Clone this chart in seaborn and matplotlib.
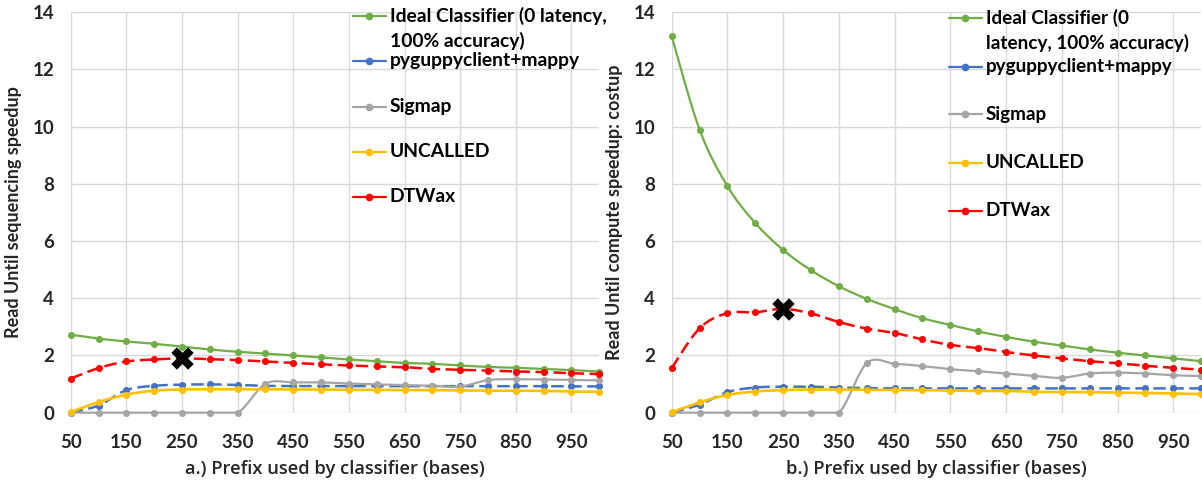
import numpy as np
import matplotlib
matplotlib.use("Agg")
import matplotlib.pyplot as plt
import seaborn as sns
from matplotlib.lines import Line2D

# Prefix length (bases) used by each read classifier
prefix = [50, 100, 150, 200, 250, 300, 350, 400, 450, 500,
          550, 600, 650, 700, 750, 800, 850, 900, 950, 1000]

# a.) Read Until sequencing speedup
ideal_seq = [2.73, 2.59, 2.49, 2.41, 2.31, 2.21, 2.13, 2.07, 2.00, 1.93,
             1.86, 1.80, 1.74, 1.71, 1.65, 1.60, 1.57, 1.53, 1.49, 1.44]
guppy_seq = [0.00, 0.25, 0.79, 0.94, 0.98, 0.99, 0.97, 0.94, 0.93, 0.93,
             0.93, 0.93, 0.93, 0.93, 0.93, 0.93, 0.93, 0.93, 0.92, 0.92]
sigmap_seq = [0.00, 0.00, 0.00, 0.00, 0.00, 0.00, 0.00, 1.01, 1.06, 1.06,
              1.02, 0.99, 0.97, 0.94, 0.91, 1.14, 1.17, 1.16, 1.14, 1.13]
uncalled_seq = [0.02, 0.37, 0.63, 0.77, 0.81, 0.82, 0.82, 0.82, 0.81, 0.81,
                0.80, 0.80, 0.79, 0.79, 0.78, 0.77, 0.77, 0.76, 0.74, 0.73]
dtwax_seq = [1.19, 1.56, 1.79, 1.86, 1.90, 1.87, 1.84, 1.79, 1.74, 1.69,
             1.65, 1.62, 1.59, 1.53, 1.50, 1.47, 1.44, 1.42, 1.38, 1.35]

# b.) Read Until compute speedup: costup
ideal_cmp = [13.16, 9.90, 7.92, 6.63, 5.69, 4.98, 4.42, 3.98, 3.62, 3.30,
             3.07, 2.84, 2.65, 2.48, 2.35, 2.21, 2.10, 2.00, 1.90, 1.80]
guppy_cmp = [0.00, 0.28, 0.72, 0.88, 0.91, 0.91, 0.88, 0.86, 0.85, 0.85,
             0.85, 0.85, 0.85, 0.85, 0.85, 0.85, 0.85, 0.85, 0.85, 0.85]
sigmap_cmp = [0.00, 0.00, 0.00, 0.00, 0.00, 0.00, 0.00, 1.73, 1.71, 1.63,
              1.52, 1.45, 1.37, 1.29, 1.22, 1.37, 1.40, 1.37, 1.31, 1.28]
uncalled_cmp = [0.02, 0.36, 0.62, 0.74, 0.79, 0.81, 0.81, 0.80, 0.79, 0.79,
                0.77, 0.76, 0.76, 0.73, 0.72, 0.72, 0.70, 0.69, 0.67, 0.65]
dtwax_cmp = [1.56, 2.95, 3.48, 3.51, 3.63, 3.47, 3.17, 2.94, 2.79, 2.56,
             2.37, 2.26, 2.12, 2.00, 1.90, 1.80, 1.73, 1.64, 1.57, 1.50]

series_names = ["Ideal Classifier (0 latency, 100% accuracy)",
                "pyguppyclient+mappy", "Sigmap", "UNCALLED", "DTWax"]
series_colors = ["#70AD47", "#4472C4", "#A5A5A5", "#FFC000", "#FF0000"]
highlight_prefix = 250  # DTWax operating point marked with a cross

x_ticks = [50, 150, 250, 350, 450, 550, 650, 750, 850, 950]
y_ticks = [0, 2, 4, 6, 8, 10, 12, 14]

panel_seq = [ideal_seq, guppy_seq, sigmap_seq, uncalled_seq, dtwax_seq]
panel_cmp = [ideal_cmp, guppy_cmp, sigmap_cmp, uncalled_cmp, dtwax_cmp]

sns.set_theme(style="white")
plt.rcParams["font.family"] = ["Lato", "DejaVu Sans"]

DASHED = (0, (5.0, 2.2))
styles = ["-", DASHED, "-", "-", DASHED]
widths = [1.6, 1.8, 1.6, 1.9, 1.8]


def smooth(xv, yv, n=20):
    """Cardinal (Catmull-Rom) Bezier curve through the points."""
    pts = np.column_stack([xv, yv]).astype(float)
    p = np.vstack([pts[0], pts, pts[-1]])
    t = np.linspace(0, 1, n, endpoint=False)[:, None]
    out = []
    for i in range(1, len(p) - 2):
        p0, p1, p2, p3 = p[i - 1], p[i], p[i + 1], p[i + 2]
        c1 = p1 + (p2 - p0) / 6.0
        c2 = p2 - (p3 - p1) / 6.0
        # keep flat runs flat (no overshoot into a level stretch)
        if p1[1] == p2[1]:
            c1[1] = c2[1] = p1[1]
        out.append((1 - t) ** 3 * p1 + 3 * (1 - t) ** 2 * t * c1
                   + 3 * (1 - t) * t ** 2 * c2 + t ** 3 * p2)
    out.append(pts[-1:])
    return np.vstack(out)


fig = plt.figure(figsize=(12.02, 4.82), dpi=100)
ax_a = fig.add_axes([0.0588, 0.1438, 0.4398, 0.8307])
ax_b = fig.add_axes([0.5588, 0.1438, 0.4405, 0.8307])

panels = [
    (ax_a, panel_seq, "Read Until sequencing speedup",
     "a.) Prefix used by classifier (bases)",
     ["Ideal Classifier (0 latency,", "100% accuracy)"],
     dict(x0=0.5335, x1=0.5965, xt=0.604,
          ys=[0.9908, 0.8784, 0.7642, 0.6519, 0.5395], y2=0.929, fs=13.9)),
    (ax_b, panel_cmp, "Read Until compute speedup: costup",
     "b.) Prefix used by classifier (bases)",
     ["Ideal Classifier (0", "latency, 100% accuracy)"],
     dict(x0=0.5243, x1=0.5855, xt=0.593,
          ys=[0.985, 0.8641, 0.7453, 0.6244, 0.5045], y2=0.9226, fs=13.6)),
]

for ax, values, ylabel, xlabel, ideal_lines, key in panels:
    for i, (vals, color, ls, lw) in enumerate(zip(values, series_colors, styles, widths)):
        z = 3 + i * 0.1
        curve = smooth(prefix, vals)
        sns.lineplot(x=curve[:, 0], y=curve[:, 1], ax=ax, color=color,
                     linewidth=lw, linestyle=ls, sort=False, estimator=None,
                     zorder=z, clip_on=False)
        sns.scatterplot(x=prefix, y=vals, ax=ax, color=color, s=26,
                        edgecolor=color, linewidth=0, zorder=z + 0.05,
                        clip_on=False)

    # cross on the DTWax curve at the chosen prefix
    dtwax_vals = values[4]
    k = prefix.index(highlight_prefix)
    sns.scatterplot(x=[prefix[k]], y=[dtwax_vals[k]], ax=ax, marker="X",
                    s=260, color="black", edgecolor="black", linewidth=0,
                    zorder=10, clip_on=False)

    ax.set_xlim(50, 1000)
    ax.set_ylim(0, 14)
    ax.set_xticks(x_ticks)
    ax.set_yticks(y_ticks)
    ax.grid(True, color="#D9D9D9", linewidth=1.0)
    ax.set_axisbelow(True)
    for s in ax.spines.values():
        s.set_visible(False)
    ax.tick_params(axis="both", length=0, labelsize=13.5)
    ax.tick_params(axis="x", pad=15)
    ax.tick_params(axis="y", pad=12)
    for lab in ax.get_xticklabels() + ax.get_yticklabels():
        lab.set_fontweight("bold")

    ax.set_ylabel(ylabel, fontsize=13, fontweight="bold")
    ax.yaxis.set_label_coords(-0.092, 0.5)
    ax.set_xlabel(xlabel, fontsize=13.2, fontweight=600,
                  family=["Open Sans", "Lato", "DejaVu Sans"])
    ax.xaxis.label.set_verticalalignment("center")
    ax.xaxis.set_label_coords(0.5, -0.141)

    # key: line samples with a dot, text to the right
    for i, (name, color) in enumerate(zip(series_names, series_colors)):
        y = key["ys"][i]
        ax.add_line(Line2D([key["x0"], key["x1"]], [y, y], transform=ax.transAxes,
                           color=color, linewidth=1.6, clip_on=False, zorder=12))
        ax.add_line(Line2D([(key["x0"] + key["x1"]) / 2], [y], transform=ax.transAxes,
                           color=color, marker="o", markersize=4.5, linestyle="none",
                           clip_on=False, zorder=12))
        text = ideal_lines[0] if i == 0 else name
        ax.text(key["xt"], y, text, transform=ax.transAxes, ha="left", va="center",
                fontsize=key["fs"], fontweight="bold", color="black", clip_on=False)
    ax.text(key["xt"], key["y2"], ideal_lines[1], transform=ax.transAxes, ha="left",
            va="center", fontsize=key["fs"], fontweight="bold", color="black",
            clip_on=False)

fig.savefig("out.png", dpi=100, facecolor="white")
